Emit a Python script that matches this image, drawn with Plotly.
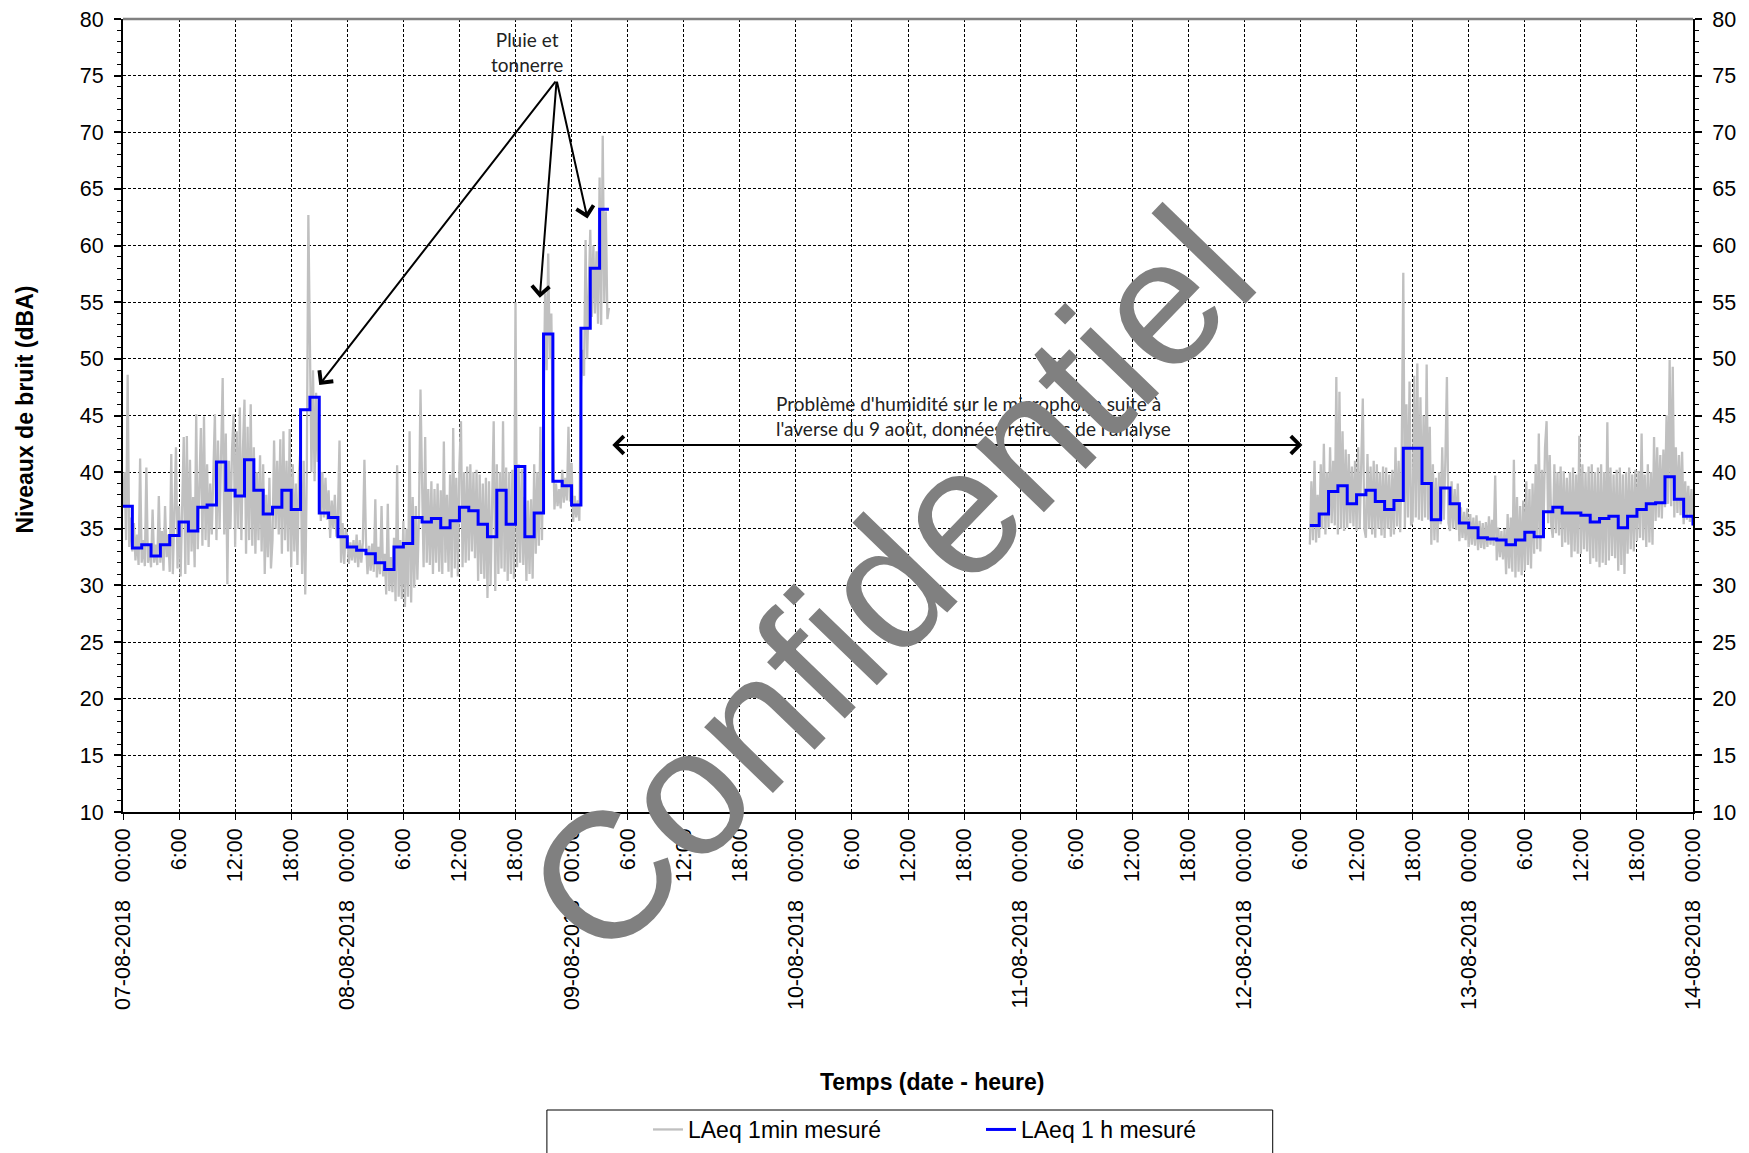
import plotly.graph_objects as go
import pandas as pd

START = pd.Timestamp("2018-08-07 00:00")
END = pd.Timestamp("2018-08-14 00:00")

# ---- Hourly LAeq (dBA) ----
laeq_1h_seg1_start = "2018-08-07 00:00"
laeq_1h_seg1 = [37.0, 33.3, 33.6, 32.6, 33.6, 34.4, 35.6, 34.8, 36.9, 37.1,
                40.9, 38.4, 37.9, 41.1, 38.4, 36.3, 36.9, 38.4, 36.7, 45.5,
                46.6, 36.4, 36.0, 34.3, 33.4, 33.1, 32.8, 32.0, 31.4, 33.4,
                33.7, 36.0, 35.6, 35.9, 35.1, 35.7, 36.9, 36.6, 35.4, 34.3,
                38.4, 35.4, 40.5, 34.3, 36.4, 52.2, 39.2, 38.8, 37.1, 52.7,
                58.0, 63.2, 63.2]
laeq_1h_seg2_start = "2018-08-12 07:00"
laeq_1h_seg2 = [35.3, 36.3, 38.3, 38.8, 37.2, 38.0, 38.4, 37.4, 36.7, 37.5,
                42.1, 42.1, 39.0, 35.8, 38.6, 37.2, 35.5, 35.1, 34.2, 34.1,
                34.0, 33.6, 34.0, 34.7, 34.3, 36.5, 36.9, 36.4, 36.4, 36.2,
                35.6, 35.9, 36.1, 35.1, 36.1, 36.7, 37.2, 37.3, 39.6, 37.6,
                36.1, 35.3]

# ---- 1-min LAeq, read at 10-min resolution (dBA) ----
laeq_1min_seg1_start = "2018-08-07 00:00"
laeq_1min_seg1 = [
    37.0, 40.0, 34.0, 48.6, 33.4, 36.0,
    33.0, 35.5, 32.2, 34.5, 31.8, 41.2,
    32.0, 34.0, 31.7, 40.4, 32.0, 33.5,
    31.6, 36.7, 32.0, 33.6, 31.8, 37.9,
    32.0, 34.8, 31.3, 37.0, 32.5, 34.5,
    31.2, 41.6, 31.0, 36.0, 42.2, 31.5,
    37.0, 30.8, 38.4, 43.1, 31.0, 43.2,
    31.8, 41.1, 33.0, 37.8, 31.6, 45.1,
    33.2, 39.2, 43.9, 33.5, 44.9, 34.0,
    40.7, 33.4, 39.0, 34.5, 40.5, 45.1,
    34.0, 42.8, 35.0, 41.5, 48.3, 34.5,
    43.4, 30.1, 41.0, 35.0, 42.0, 45.1,
    33.4, 43.6, 35.0, 45.7, 34.0, 42.0,
    46.4, 32.8, 44.0, 34.0, 46.0, 33.5,
    42.2, 32.8, 40.0, 34.0, 41.5, 33.0,
    40.7, 31.0, 38.0, 32.5, 39.5, 31.5,
    34.0, 42.8, 35.0, 41.0, 34.5, 42.9,
    32.8, 43.6, 34.0, 41.0, 33.0, 43.8,
    31.6, 40.7, 33.0, 39.0, 31.8, 40.0,
    42.2, 31.0, 41.0, 29.2, 40.0, 62.7,
    51.0, 40.0, 49.0, 39.2, 47.0, 41.0,
    41.0, 35.7, 40.0, 36.0, 39.5, 35.8,
    38.4, 34.2, 37.5, 35.0, 38.0, 34.3,
    36.3, 42.8, 32.0, 35.5, 31.9, 35.0,
    34.2, 31.9, 33.8, 32.2, 34.0, 32.0,
    34.5, 31.6, 34.0, 32.0, 33.8, 41.1,
    33.9, 31.0, 33.5, 31.3, 33.7, 31.2,
    37.6, 30.7, 33.4, 31.0, 37.0, 30.8,
    32.8, 29.2, 37.2, 29.5, 32.5, 29.4,
    34.2, 28.6, 40.6, 29.0, 34.0, 28.8,
    35.7, 28.1, 35.0, 29.0, 43.6, 28.5,
    37.8, 29.8, 37.0, 30.5, 36.0, 47.3,
    39.2, 31.6, 43.1, 32.0, 38.5, 31.8,
    39.2, 31.0, 38.5, 32.0, 39.0, 31.2,
    38.4, 31.0, 42.7, 32.0, 38.0, 31.2,
    39.8, 30.7, 43.9, 31.5, 39.5, 30.8,
    40.7, 44.5, 31.6, 40.0, 32.0, 40.5,
    32.2, 40.7, 33.0, 40.0, 32.4, 40.2,
    30.4, 39.8, 31.0, 39.0, 30.6, 39.5,
    28.9, 39.2, 30.0, 38.5, 44.5, 29.5,
    40.7, 31.0, 40.0, 31.5, 44.5, 31.2,
    40.4, 30.4, 40.0, 31.0, 40.2, 30.6,
    55.0, 31.6, 40.7, 32.0, 40.3, 31.8,
    37.8, 30.4, 37.5, 31.0, 37.6, 30.6,
    40.7, 32.8, 40.0, 33.5, 44.0, 34.0,
    48.0, 55.8, 49.0, 59.3, 50.0, 54.0,
    44.0, 36.7, 39.0, 37.0, 38.5, 36.8,
    40.2, 37.3, 39.5, 37.5, 44.0, 37.4,
    40.8, 35.6, 37.9, 36.0, 37.5, 35.7,
    47.5, 50.8, 48.5, 60.5, 50.0, 56.0,
    61.4, 53.7, 60.0, 54.0, 59.5, 53.1,
    66.0, 53.0, 69.7, 55.0, 63.0, 53.5,
    54.5]
laeq_1min_seg2_start = "2018-08-12 07:00"
laeq_1min_seg2 = [
    33.6, 39.2, 34.0, 41.0, 33.8, 38.0,
    34.2, 40.7, 35.0, 42.5, 34.5, 40.0,
    35.1, 42.2, 35.5, 41.0, 35.3, 48.4,
    34.5, 47.1, 35.0, 43.6, 34.8, 42.0,
    35.1, 41.6, 35.5, 40.5, 35.2, 41.0,
    34.8, 42.2, 35.0, 41.0, 46.5, 35.0,
    34.2, 41.6, 35.0, 40.5, 34.5, 41.0,
    34.2, 40.7, 35.0, 40.0, 34.4, 40.5,
    34.2, 40.4, 35.0, 39.8, 34.3, 40.2,
    34.5, 42.2, 35.2, 41.0, 34.7, 42.0,
    57.6, 35.1, 46.0, 36.0, 48.0, 35.3,
    35.7, 48.5, 36.0, 49.6, 35.8, 46.6,
    35.7, 45.0, 36.0, 49.5, 35.8, 44.0,
    33.6, 40.7, 34.0, 39.5, 33.8, 40.0,
    35.4, 42.2, 35.8, 41.0, 48.4, 35.5,
    34.8, 39.2, 35.0, 38.5, 34.9, 39.0,
    33.9, 36.9, 34.2, 36.5, 34.0, 36.8,
    33.4, 36.3, 33.6, 36.0, 33.5, 36.2,
    33.1, 35.7, 33.3, 35.5, 33.2, 35.6,
    33.4, 36.1, 33.6, 35.8, 33.5, 39.7,
    32.2, 35.1, 32.5, 34.8, 32.3, 35.0,
    31.0, 36.3, 31.5, 36.0, 31.2, 41.1,
    30.7, 37.8, 31.2, 37.0, 30.9, 37.5,
    31.3, 39.2, 31.8, 38.5, 31.5, 39.0,
    32.8, 40.7, 33.2, 43.4, 33.0, 40.2,
    35.1, 42.2, 44.5, 35.5, 41.5, 35.3,
    34.2, 40.7, 34.6, 40.0, 34.4, 40.5,
    33.4, 40.1, 33.8, 39.5, 33.6, 40.0,
    32.5, 40.4, 33.0, 39.8, 32.8, 43.2,
    32.8, 40.7, 33.2, 40.0, 33.0, 40.5,
    31.9, 40.7, 32.4, 40.0, 32.1, 40.4,
    31.6, 40.7, 32.0, 40.0, 31.8, 44.4,
    32.2, 40.4, 32.6, 39.8, 32.4, 40.2,
    31.3, 40.4, 31.8, 39.8, 31.0, 40.0,
    32.8, 40.4, 33.2, 39.8, 33.0, 40.2,
    33.9, 40.1, 34.2, 43.4, 34.0, 39.8,
    33.4, 40.7, 33.8, 40.0, 33.6, 43.1,
    35.7, 42.2, 36.0, 41.5, 35.9, 42.0,
    36.9, 45.0, 37.2, 49.9, 37.0, 49.3,
    36.0, 42.2, 36.4, 41.5, 36.2, 41.8,
    35.4, 39.2, 35.8, 38.8, 35.6, 38.5,
    35.3]

series_names = ["LAeq 1min mesuré", "LAeq 1 h mesuré"]

# ---- build x arrays ----
def times(start, n, freq):
    return list(pd.date_range(pd.Timestamp(start), periods=n, freq=freq))

gx1 = times(laeq_1min_seg1_start, len(laeq_1min_seg1), "10min")
gx2 = times(laeq_1min_seg2_start, len(laeq_1min_seg2), "10min")
gap_t = pd.Timestamp("2018-08-10 12:00")
gray_x = gx1 + [gap_t] + gx2
gray_y = laeq_1min_seg1 + [None] + laeq_1min_seg2

bx1 = times(laeq_1h_seg1_start, len(laeq_1h_seg1), "1h")
bx2 = times(laeq_1h_seg2_start, len(laeq_1h_seg2), "1h")
blue_x = bx1 + [gap_t] + bx2
blue_y = laeq_1h_seg1 + [None] + laeq_1h_seg2

FONT = "Liberation Sans"
TICK_SIZE = 21.5

fig = go.Figure()
fig.add_trace(go.Scatter(x=gray_x, y=gray_y, mode="lines", name=series_names[0],
                         line=dict(color="#C0C0C0", width=2.3), connectgaps=False))
fig.add_trace(go.Scatter(x=blue_x, y=blue_y, mode="lines", name=series_names[1],
                         line=dict(color="#0000FF", width=3, shape="hv"),
                         connectgaps=False, yaxis="y2"))

tick_times = list(pd.date_range(START, END, freq="6h"))
tick_text = [(f"{t:%d-%m-%Y}\u00a0\u00a0\u00a0" + "00:00") if t.hour == 0 else f"{t.hour}:00"
             for t in tick_times]

def hrs(h):
    return START + pd.Timedelta(hours=h)

annotations = [
    dict(text="Pluie et<br>tonnerre", x=hrs(43.2), y=77.1, xref="x", yref="y",
         xanchor="center", yanchor="middle",
         showarrow=False, font=dict(family="Lato", size=19, color="#222"), align="center"),
    dict(text="Problème d'humidité sur le microphone suite à<br>l'averse du 9 août, données retirées de l'analyse",
         x=hrs(69.65), y=45.0, xref="x", yref="y", xanchor="left", yanchor="middle",
         showarrow=False, font=dict(family="Lato", size=19, color="#222"), align="left"),
    dict(text="Temps (date - heure)", x=0.5155, y=-0.3405, xref="paper", yref="paper",
         xanchor="center", yanchor="middle",
         showarrow=False, font=dict(family=FONT, size=23, color="black", weight="bold")),
    dict(text="Niveaux de bruit (dBA)", x=-0.0627, y=0.507, xref="paper", yref="paper",
         xanchor="center", yanchor="middle",
         textangle=-90, showarrow=False, font=dict(family=FONT, size=23, color="black", weight="bold")),
]
for hx, vy in [(21.0, 47.7), (44.6, 55.4), (49.7, 62.4)]:
    annotations.append(dict(text="", x=hrs(hx), y=vy, ax=hrs(46.4), ay=74.6,
                            xref="x", yref="y", axref="x", ayref="y",
                            showarrow=True, arrowhead=4, arrowsize=1.7, arrowwidth=2,
                            arrowcolor="black"))
annotations.append(dict(text="", x=hrs(126.2), y=42.4, ax=hrs(52.2), ay=42.4,
                        xref="x", yref="y", axref="x", ayref="y",
                        showarrow=True, arrowhead=4, startarrowhead=4, arrowside="end+start",
                        arrowsize=1.7, startarrowsize=1.7, arrowwidth=2, arrowcolor="black"))
annotations.append(dict(text="Confidentiel", x=0.488, y=0.29, xref="paper", yref="paper",
                        xanchor="center", yanchor="middle",
                        textangle=-46, showarrow=False,
                        font=dict(family=FONT, size=180, color="#808080")))

shapes = [
    dict(type="line", xref="paper", yref="paper", x0=0, x1=1, y0=1, y1=1,
         line=dict(color="#808080", width=2.5)),
    dict(type="rect", xref="paper", yref="paper", x0=0.27, x1=0.7323, y0=-0.3758, y1=-0.44,
         line=dict(color="black", width=1)),
]

yax_common = dict(range=[10, 80], dtick=5, tick0=10, ticks="outside", ticklen=7, tickwidth=1.5,
                  tickcolor="black", showline=True, linecolor="black", linewidth=2,
                  tickfont=dict(family=FONT, size=TICK_SIZE, color="black"), zeroline=False,
                  minor=dict(dtick=1, ticks="outside", ticklen=4, tickcolor="black", tickwidth=1,
                             showgrid=False),
                  ticklabelstandoff=6, ticklabeloverflow="allow")

# the page body adds an 8 px offset, so the figure is 8 px smaller on each axis
fig.update_layout(
    width=1741, height=1145,
    margin=dict(l=115, r=55.5, t=11, b=341, autoexpand=False),
    paper_bgcolor="white", plot_bgcolor="white",
    font=dict(family=FONT, color="black"),
    xaxis=dict(range=[START, END], tickmode="array", tickvals=tick_times, ticktext=tick_text,
               tickangle=-90, ticks="outside", ticklen=6, tickcolor="black",
               tickfont=dict(family=FONT, size=TICK_SIZE, color="black"),
               showline=True, linecolor="black", linewidth=1.5,
               showgrid=True, gridcolor="black", gridwidth=1, griddash="3px,2px",
               zeroline=False, ticklabeloverflow="allow"),
    yaxis=dict(**yax_common, showgrid=True, gridcolor="black", gridwidth=1, griddash="3px,2px",
               side="left"),
    yaxis2=dict(**yax_common, showgrid=False, overlaying="y", side="right", anchor="x"),
    showlegend=True,
    legend=dict(orientation="h", xref="container", yref="container",
                x=0.3676, y=0.0393, xanchor="left", yanchor="top",
                entrywidth=288, entrywidthmode="pixels",
                font=dict(family=FONT, size=23, color="black"),
                bgcolor="rgba(0,0,0,0)", borderwidth=0),
    annotations=annotations,
    shapes=shapes,
)

fig.write_html("out.html")
